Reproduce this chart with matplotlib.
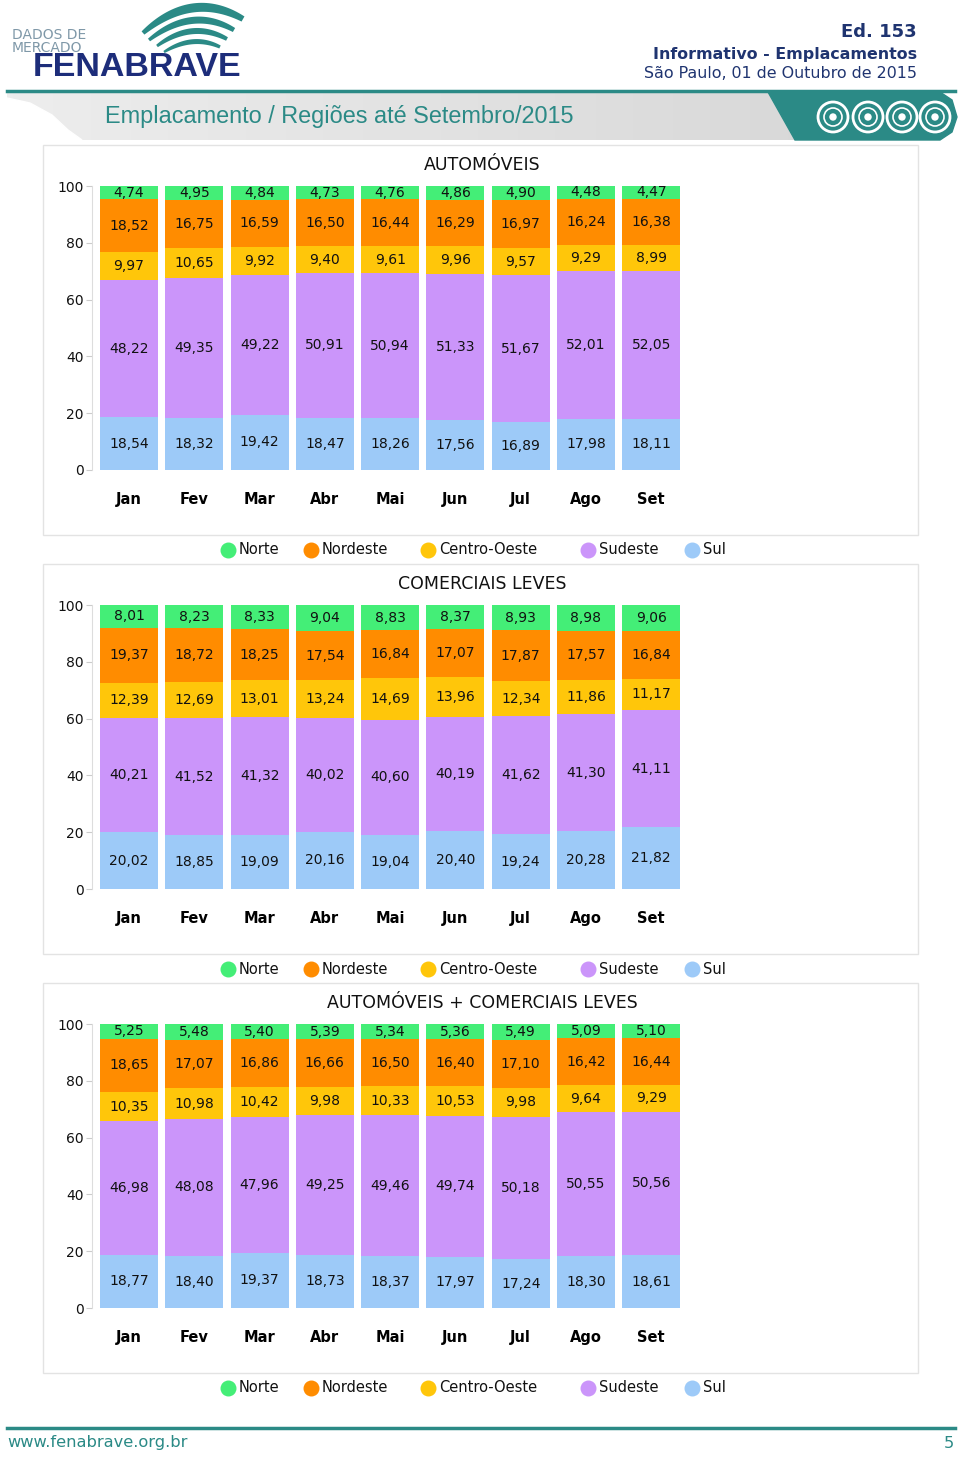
import numpy as np
import matplotlib
matplotlib.use('Agg')
import matplotlib.pyplot as plt
from matplotlib.patches import Rectangle, Polygon, Circle

W, H = 960, 1457

meses = ['Jan', 'Fev', 'Mar', 'Abr', 'Mai', 'Jun', 'Jul', 'Ago', 'Set']
regioes = ['Norte', 'Nordeste', 'Centro-Oeste', 'Sudeste', 'Sul']
cores = ['#44ee77', '#ff8c00', '#ffc60a', '#cb95fa', '#9dcaf8']

# automoveis
auto_norte = [4.74, 4.95, 4.84, 4.73, 4.76, 4.86, 4.90, 4.48, 4.47]
auto_nordeste = [18.52, 16.75, 16.59, 16.50, 16.44, 16.29, 16.97, 16.24, 16.38]
auto_co = [9.97, 10.65, 9.92, 9.40, 9.61, 9.96, 9.57, 9.29, 8.99]
auto_sudeste = [48.22, 49.35, 49.22, 50.91, 50.94, 51.33, 51.67, 52.01, 52.05]
auto_sul = [18.54, 18.32, 19.42, 18.47, 18.26, 17.56, 16.89, 17.98, 18.11]

# comerciais leves
cl_norte = [8.01, 8.23, 8.33, 9.04, 8.83, 8.37, 8.93, 8.98, 9.06]
cl_nordeste = [19.37, 18.72, 18.25, 17.54, 16.84, 17.07, 17.87, 17.57, 16.84]
cl_co = [12.39, 12.69, 13.01, 13.24, 14.69, 13.96, 12.34, 11.86, 11.17]
cl_sudeste = [40.21, 41.52, 41.32, 40.02, 40.60, 40.19, 41.62, 41.30, 41.11]
cl_sul = [20.02, 18.85, 19.09, 20.16, 19.04, 20.40, 19.24, 20.28, 21.82]

# automoveis + comerciais leves
tot_norte = [5.25, 5.48, 5.40, 5.39, 5.34, 5.36, 5.49, 5.09, 5.10]
tot_nordeste = [18.65, 17.07, 16.86, 16.66, 16.50, 16.40, 17.10, 16.42, 16.44]
tot_co = [10.35, 10.98, 10.42, 9.98, 10.33, 10.53, 9.98, 9.64, 9.29]
tot_sudeste = [46.98, 48.08, 47.96, 49.25, 49.46, 49.74, 50.18, 50.55, 50.56]
tot_sul = [18.77, 18.40, 19.37, 18.73, 18.37, 17.97, 17.24, 18.30, 18.61]

graficos = [
    ('AUTOMÓVEIS', [auto_norte, auto_nordeste, auto_co, auto_sudeste, auto_sul]),
    ('COMERCIAIS LEVES', [cl_norte, cl_nordeste, cl_co, cl_sudeste, cl_sul]),
    ('AUTOMÓVEIS + COMERCIAIS LEVES', [tot_norte, tot_nordeste, tot_co, tot_sudeste, tot_sul]),
]

TEAL = '#2b8a86'
NAVY = '#1f3470'
FONT = 'DejaVu Sans'


def rect(x0, y0, x1, y1):
    return [x0 / W, 1 - y1 / H, (x1 - x0) / W, (y1 - y0) / H]


def swoosh(p0, c, p2, w):
    # tapered band along a quadratic curve (logo)
    t = np.linspace(0, 1, 40)[:, None]
    p0, c, p2 = np.array(p0), np.array(c), np.array(p2)
    pts = (1 - t) ** 2 * p0 + 2 * (1 - t) * t * c + t ** 2 * p2
    d = 2 * (1 - t) * (c - p0) + 2 * t * (p2 - c)
    n = np.column_stack([d[:, 1], -d[:, 0]]) / np.linalg.norm(d, axis=1)[:, None]
    thick = w * (0.15 + 0.85 * np.sin(np.pi * t[:, 0] * 0.8 + 0.2) ** 0.6)[:, None] / 2
    return np.vstack([pts + n * thick, (pts - n * thick)[::-1]])


fig = plt.figure(figsize=(W / 100, H / 100), dpi=100)
fig.patch.set_facecolor('white')

# overlay in pixel coordinates for the page decorations
bg = fig.add_axes([0, 0, 1, 1])
bg.set_xlim(0, W)
bg.set_ylim(H, 0)
bg.axis('off')

# logo
for p0, c, p2, w in [((143, 33), (192, -10), (243, 19), 9),
                     ((149, 40), (192, 6), (234, 30), 7),
                     ((157, 46), (192, 20), (227, 39), 6),
                     ((164, 52), (193, 34), (220, 47), 5)]:
    bg.add_patch(Polygon(swoosh(p0, c, p2, w), color=TEAL, lw=0))
bg.text(12, 35, 'DADOS DE', fontsize=10, color='#7f98a8', family=FONT, va='center')
bg.text(12, 47.5, 'MERCADO', fontsize=10, color='#7f98a8', family=FONT, va='center')
bg.text(33, 68, 'FENABRAVE', fontsize=24.5, color='#1d2d7a', family='Liberation Sans',
        weight='bold', va='center')
bg.text(917, 32, 'Ed. 153', fontsize=13, color=NAVY, family=FONT, weight='bold', ha='right', va='center')
bg.text(917, 54, 'Informativo - Emplacamentos', fontsize=11.4, color=NAVY, family=FONT,
        weight='bold', ha='right', va='center')
bg.text(917, 74, 'São Paulo, 01 de Outubro de 2015', fontsize=11.4, color=NAVY, family=FONT,
        ha='right', va='center')

# title band
bg.plot([7, 955], [91, 91], color=TEAL, lw=2.5)
grad = np.linspace(0.93, 0.85, 256).reshape(1, -1)
bg.imshow(np.dstack([grad, grad, grad]), extent=(7, 800, 140, 93), aspect='auto', zorder=1)
cut = [[7, 98], [30, 103], [52, 115], [68, 130], [82, 140], [7, 141]]
bg.add_patch(Polygon(cut, color='white', zorder=2))
bg.add_patch(Polygon([[768, 92], [940, 92], [952, 100], [957, 117], [952, 132], [940, 140], [795, 140]],
                     color=TEAL, zorder=3))
for cx in [833, 868, 902, 935]:
    bg.add_patch(Circle((cx, 117), 15, fill=False, ec='white', lw=2, zorder=4))
    bg.add_patch(Circle((cx, 117), 9, fill=False, ec='white', lw=1.2, zorder=4))
    bg.add_patch(Circle((cx, 117), 3, color='white', zorder=4))
bg.text(105, 116, 'Emplacamento / Regiões até Setembro/2015', fontsize=16.9, color=TEAL,
        family='Liberation Sans', va='center', zorder=5)

# footer
bg.plot([7, 955], [1428, 1428], color=TEAL, lw=2.5)
bg.text(7, 1443, 'www.fenabrave.org.br', fontsize=11.7, color=TEAL, family=FONT, va='center')
bg.text(954, 1443, '5', fontsize=11.7, color=TEAL, family=FONT, ha='right', va='center')

x = np.arange(len(meses))
leg_x = [228, 311, 428, 588, 692]

for i, (titulo, series) in enumerate(graficos):
    y0 = 470 + 419 * i
    # panel box
    bg.add_patch(Rectangle((43, y0 - 325), 875, 390, fill=False, ec='#e3e3e3', lw=1))
    bg.text(482, y0 - 305, titulo, fontsize=12.5, family=FONT, ha='center', va='center', color='#111111')

    ax = fig.add_axes(rect(92, y0 - 284, 680, y0))
    ax.set_xlim(-0.567, 8.44)
    ax.set_ylim(0, 100)
    bottom = np.zeros(len(meses))
    for nome, cor, vals in reversed(list(zip(regioes, cores, series))):
        vals = np.array(vals)
        ax.bar(x, vals, bottom=bottom, width=0.89, color=cor, clip_on=False)
        for xi, b, v in zip(x, bottom, vals):
            ax.text(xi, b + v / 2, f'{v:.2f}'.replace('.', ','), ha='center', va='center',
                    fontsize=10, family=FONT, color='#111111')
        bottom += vals
    for s in ['top', 'right', 'bottom']:
        ax.spines[s].set_visible(False)
    ax.spines['left'].set_color('#dddddd')
    ax.set_yticks([0, 20, 40, 60, 80, 100])
    ax.tick_params(axis='y', length=4.5, color='#cccccc', labelsize=10, pad=1.5, labelcolor='#111111')
    ax.set_xticks(x)
    ax.set_xticklabels(meses, fontsize=10.5, weight='bold', family=FONT)
    ax.tick_params(axis='x', length=0, pad=16)
    ax.patch.set_alpha(0)

    # legend
    ly = y0 + 80
    for lx, nome, cor in zip(leg_x, regioes, cores):
        bg.scatter([lx], [ly], s=110, color=cor, zorder=5)
        bg.text(lx + 11, ly, nome, fontsize=10.5, family=FONT, va='center', color='#111111')

fig.savefig('out.png', dpi=100)
